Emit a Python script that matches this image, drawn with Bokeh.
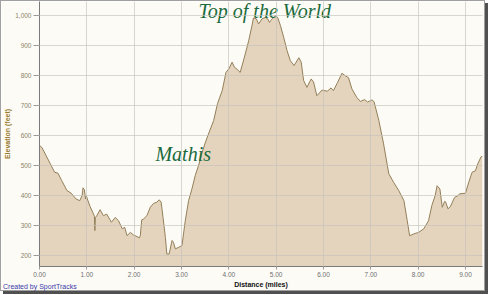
from bokeh.plotting import figure
from bokeh.models import Range1d, Label, NumeralTickFormatter, FixedTicker, Div
from bokeh.layouts import column
from bokeh.embed import file_html
from bokeh.resources import INLINE

distance_miles = [
    0.00, 0.05, 0.23, 0.32, 0.39, 0.47, 0.58, 0.67, 0.77, 0.85,
    0.90, 0.92, 0.95, 0.97, 0.99, 1.01, 1.07, 1.14, 1.16, 1.17,
    1.18, 1.21, 1.28, 1.35, 1.42, 1.52, 1.60, 1.67, 1.75, 1.80,
    1.85, 1.92, 1.99, 2.06, 2.11, 2.13, 2.16, 2.20, 2.27, 2.34,
    2.41, 2.48, 2.53, 2.57, 2.61, 2.66, 2.69, 2.74, 2.80, 2.83,
    2.87, 2.94, 3.01, 3.08, 3.15, 3.22, 3.29, 3.36, 3.43, 3.50,
    3.57, 3.68, 3.76, 3.86, 3.94, 4.00, 4.07, 4.12, 4.17, 4.24,
    4.33, 4.42, 4.49, 4.52, 4.58, 4.63, 4.70, 4.77, 4.82, 4.86,
    4.88, 4.92, 4.98, 5.03, 5.09, 5.16, 5.23, 5.30, 5.38, 5.48,
    5.53, 5.58, 5.65, 5.74, 5.79, 5.86, 5.97, 6.08, 6.16, 6.21,
    6.30, 6.39, 6.46, 6.53, 6.60, 6.70, 6.78, 6.87, 6.93, 7.03,
    7.07, 7.17, 7.27, 7.38, 7.48, 7.59, 7.70, 7.77, 7.82, 7.91,
    8.01, 8.12, 8.22, 8.29, 8.36, 8.40, 8.46, 8.51, 8.56, 8.58,
    8.63, 8.68, 8.77, 8.84, 8.88, 9.00, 9.07, 9.14, 9.21, 9.26,
    9.33, 9.36,
]
elevation_feet = [
    567, 560, 505, 477, 474, 449, 416, 407, 388, 382,
    399, 425, 418, 388, 399, 388, 362, 338, 330, 282,
    325, 332, 352, 332, 337, 310, 326, 315, 288, 293,
    265, 276, 267, 262, 258, 265, 318, 321, 332, 360,
    373, 377, 385, 377, 326, 259, 204, 204, 249, 243,
    221, 226, 232, 315, 382, 421, 466, 499, 540, 575,
    605, 650, 706, 750, 811, 823, 845, 828, 822, 811,
    862, 917, 968, 993, 990, 973, 990, 995, 990, 978,
    984, 990, 1001, 995, 968, 928, 884, 850, 834, 860,
    845, 784, 761, 789, 779, 733, 752, 748, 759, 750,
    778, 808, 800, 793, 756, 728, 714, 720, 712, 719,
    712, 650, 572, 472, 444, 416, 382, 315, 265, 271,
    276, 288, 315, 366, 399, 432, 421, 360, 380, 378,
    355, 362, 393, 399, 405, 407, 444, 477, 482, 505,
    529, 530,
]
x_ticks = [0, 1, 2, 3, 4, 5, 6, 7, 8, 9]
y_ticks = [200, 300, 400, 500, 600, 700, 800, 900, 1000]
annotations = [("Top of the World", 3.36, 1016), ("Mathis", 2.45, 538)]
credit = "Created by SportTracks"

BG = "#fcfbf6"
p = figure(
    width=485, height=291,
    output_backend="svg", toolbar_location=None,
    x_range=Range1d(0, 9.36), y_range=Range1d(162, 1048),
    min_border_left=37, min_border_right=4, min_border_top=0, min_border_bottom=26,
    background_fill_color=BG, border_fill_color=BG,
    styles={"border": "1px solid #a0a0a0", "box-shadow": "3px 3px 0 #505050"},
)
p.outline_line_color = None

p.varea(x=distance_miles, y1=0, y2=elevation_feet, fill_color="#e4d4be", fill_alpha=1.0)
p.line(x=distance_miles, y=elevation_feet, line_color="#937f58", line_width=1)

p.xgrid.grid_line_color = "#c4c1bb"
p.ygrid.grid_line_color = "#c4c1bb"
p.xgrid.level = "overlay"
p.ygrid.level = "overlay"
p.xgrid.grid_line_alpha = 0.65
p.ygrid.grid_line_alpha = 0.65

p.xaxis.ticker = FixedTicker(ticks=x_ticks)
p.yaxis.ticker = FixedTicker(ticks=y_ticks)
p.xaxis.formatter = NumeralTickFormatter(format="0.00")
p.yaxis.formatter = NumeralTickFormatter(format="0,0")

for ax in (p.xaxis[0], p.yaxis[0]):
    ax.axis_line_color = "#7a7a7a"
    ax.major_tick_line_color = "#9a9a9a"
    ax.minor_tick_line_color = None
    ax.major_tick_in = 0
    ax.major_label_text_font = "Liberation Sans"
    ax.major_label_text_font_size = "6.5px"
    ax.axis_label_text_font = "Liberation Sans"
    ax.axis_label_text_font_style = "bold"
    ax.axis_label_text_font_size = "7px"

p.yaxis.major_tick_out = 6
p.yaxis.major_label_standoff = 2
p.yaxis.axis_label_standoff = 1
p.xaxis.major_tick_out = 3
p.xaxis.major_label_standoff = 2
p.xaxis.axis_label_standoff = 1

p.yaxis.major_label_text_color = "#8c8468"
p.xaxis.major_label_text_color = "#707070"
p.yaxis.axis_label = "Elevation (feet)"
p.yaxis.axis_label_text_color = "#9b7b2e"
p.xaxis.axis_label = "Distance (miles)"
p.xaxis.axis_label_text_color = "#111111"

for txt, ax_, ay_ in annotations:
    p.add_layout(Label(
        x=ax_, y=ay_, text=txt, text_font="Liberation Serif",
        text_font_style="italic", text_font_size="20px",
        text_color="#1a6a3c", text_baseline="alphabetic",
    ))

note = Div(
    text=credit, width=120, height=10, margin=(-8, 0, 0, 3),
    styles={"font-family": "Liberation Sans", "font-size": "7px",
            "color": "#3a3aa8", "line-height": "8px"},
)

layout = column(p, note, spacing=0)
open("out.html", "w").write(file_html(layout, INLINE))
